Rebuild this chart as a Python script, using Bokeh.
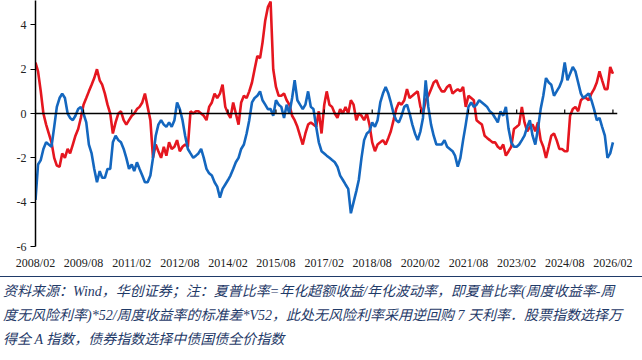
import math
import html
import pandas as pd
from bokeh.plotting import figure
from bokeh.models import Range1d, FixedTicker, DatetimeTickFormatter, Span, Div
from bokeh.layouts import column
from bokeh.embed import file_html
from bokeh.resources import INLINE

# ---------------- data (monthly readings, first month 2008/02) ----------------
start_month = "2008-02-01"

# stock index Sharpe ratio (red)
red = [
    2.3, 1.9, 1.0, 0.0, -0.5, -0.9, -1.3, -2.0, -2.35, -2.4, -1.8, -2.0,
    -1.6, -1.8, -1.4, -1.0, -0.7, -0.2, 0.4, 0.7, 1.0, 1.3, 1.6, 2.0,
    1.5, 1.3, 0.9, 0.4, 0.0, -0.9, -0.4, 0.0, 0.1, -0.3, -0.5, -0.3,
    -0.1, 0.0, 0.2, 0.3, 0.5, 0.9, 0.3, -0.3, -2.0, -1.4, -1.7, -2.0,
    -1.5, -1.9, -1.3, -1.6, -1.5, -1.2, -1.7, -1.5, -1.4, -1.5, 0.1, 0.0,
    0.1, 0.1, 0.0, -0.1, -0.3, 0.3, 0.5, 0.9, 0.7, 0.9, 1.3, 0.3,
    0.0, -0.2, 0.5, 0.0, -0.5, 0.5, 0.8, 0.7, 1.0, 1.4, 2.0, 2.6,
    2.5, 3.2, 4.2, 4.8, 5.05, 2.0, 1.2, 0.8, 0.8, 0.9, 0.6, 0.4,
    -0.1, -0.3, -0.6, -1.0, -1.4, -0.9, -0.5, -0.4, -0.5, -0.6, 0.1, -0.9,
    0.4, 1.0, 0.4, 0.3, 0.0, -0.2, 0.2, 0.0, 0.3, 0.0, 0.6, 0.4,
    -0.3, 0.0, -0.1, -0.3, 0.0, -0.5, -1.3, -1.7, -1.4, -1.3, -1.2, -1.4,
    -1.1, -0.8, -0.3, 0.2, 0.5, 0.4, 0.6, 1.1, 0.7, 0.8, 0.9, 1.0,
    0.3, 0.0, 0.6, 0.8, 1.1, 1.4, 1.5, 1.2, 1.0, 1.0, 1.2, 1.3,
    0.9, 1.0, 1.1, 1.0, 1.2, 0.3, 0.8, 0.7, 0.6, -0.3, -0.4, -0.5,
    -1.0, -1.1, -1.2, -1.3, -1.3, -1.5, -1.6, -1.4, -1.9, -1.7, -1.5, -0.7,
    -0.6, -0.5, 0.3, -0.4, -0.8, -0.6, -0.5, -0.8, -0.4, -1.2, -1.5, -2.0,
    -1.5, -1.0, -0.9, -1.2, -1.6, -1.6, -1.7, -1.7, -0.1, 0.2, 0.3, 0.1,
    0.6, 0.7, 0.7, 0.6, 0.9, 1.1, 1.4, 1.9, 1.5, 1.1, 1.1, 2.1,
    1.8,
]

# bond index Sharpe ratio (blue)
blue = [
    -3.9, -2.3, -2.1, -1.6, -1.3, -1.4, -1.5, -0.6, 0.3, 0.7, 0.9, 0.7,
    0.0, -0.2, -0.3, -0.1, 0.2, 0.3, 0.0, -0.4, -1.4, -1.8, -2.5, -3.1,
    -2.6, -2.9, -2.9, -2.5, -2.5, -1.3, -1.0, -1.2, -1.3, -1.6, -2.0, -2.5,
    -2.3, -2.6, -2.2, -2.5, -2.8, -3.1, -3.1, -2.8, -2.0, -1.0, -0.5, -0.3,
    -0.5, -0.6, -0.4, -0.6, -0.3, 0.5, 0.2, -0.3, -1.0, -1.6, -1.8, -2.0,
    -1.9, -1.8, -1.6, -2.0, -2.5, -2.7, -2.8, -3.1, -3.3, -3.8, -3.4, -3.2,
    -3.0, -2.8, -2.5, -2.2, -2.0, -1.6, -1.4, -0.9, -0.3, 0.5, 0.7, 0.8,
    1.0, 0.6, 0.4, 0.2, 0.2, -0.1, 0.6, 0.4, 0.3, -0.2, 0.4, 0.0,
    0.7, 1.5, 0.6, 0.4, 0.2, 0.4, 1.0, 0.3, 0.2, -0.6, -1.3, -1.7,
    -1.8, -1.9, -2.0, -2.1, -2.2, -2.4, -2.8, -3.0, -3.2, -3.4, -4.5, -4.0,
    -3.5, -3.0, -2.0, -1.2, -0.9, -0.8, -0.4, -0.6, -0.3, 0.5, 0.9, 1.2,
    0.9, 0.5, 0.0, -0.3, -0.4, -0.1, 0.3, 0.4, 0.0, -0.5, -0.9, -1.2,
    -0.8, -0.2, 1.5, 0.3, -0.5, -1.0, -1.4, -1.4, -1.4, -1.2, -1.5, -1.6,
    -1.7, -1.9, -2.4, -2.0, -1.2, -0.5, 0.3, 0.5, 0.3, 0.4, 0.6, 0.5,
    0.4, 0.3, 0.1, 0.0, -0.2, -0.4, 0.1, -0.1, 0.3, -0.7, -1.3, -1.5,
    -1.5, -1.4, -1.2, -1.0, -0.6, -0.3, -1.0, -1.4, -0.7, 0.2, 0.8, 1.6,
    1.4, 1.3, 0.8, 1.0, 1.2, 1.5, 2.3, 1.5, 1.8, 2.1, 1.9, 1.4,
    0.9, 0.7, 0.8, 0.9, 0.6, 0.2, -0.3, -0.2, -0.6, -1.0, -2.0, -1.8,
    -1.3,
]

x_tick_labels = ["2008/02", "2009/08", "2011/02", "2012/08", "2014/02", "2015/08",
                 "2017/02", "2018/08", "2020/02", "2021/08", "2023/02", "2024/08",
                 "2026/02"]
y_ticks = [-6, -4, -2, 0, 2, 4]
x_end = "2026-03-25"
y_min, y_max = -6, 5.1

note_lines = [
    "资料来源：Wind，华创证券；注：夏普比率=年化超额收益/年化波动率，即夏普比率(周度收益率-周",
    "度无风险利率)*52/周度收益率的标准差*V52，此处无风险利率采用逆回购 7 天利率．股票指数选择万",
    "得全 A 指数，债券指数选择中债国债全价指数",
]

# ---------------- chart ----------------
dates = pd.date_range(start_month, periods=len(red), freq="MS")
tick_dates = [pd.to_datetime(s, format="%Y/%m") for s in x_tick_labels]
tick_ms = [d.timestamp() * 1000 for d in tick_dates]

RED = "#E5161F"
BLUE = "#1467BF"
NAVY = "#1F3A68"
SERIF = "'Liberation Serif', 'Times New Roman', serif"
NOTE_FONT = "'Liberation Serif', 'Noto Sans CJK SC', serif"

p = figure(width=642, height=272, x_axis_type="datetime",
           x_range=Range1d(pd.Timestamp(start_month), pd.Timestamp(x_end)),
           y_range=Range1d(y_min, y_max),
           toolbar_location=None, output_backend="svg",
           min_border_left=35, min_border_right=25, min_border_top=0,
           min_border_bottom=26)
p.outline_line_color = None
p.grid.visible = False
p.background_fill_color = "white"

p.line(dates, red, line_color=RED, line_width=2.6)
p.line(dates, blue, line_color=BLUE, line_width=2.6)

# zero line with small upward ticks at the date ticks
p.add_layout(Span(location=0, dimension="width", line_color="black", line_width=1.5))
p.ray(x=tick_dates, y=[0] * len(tick_dates), length=4, length_units="screen",
      angle=math.pi / 2, line_color="black", line_width=1.2)

fmt = DatetimeTickFormatter(years="%Y/%m", months="%Y/%m", days="%Y/%m",
                            hours="%Y/%m", hourmin="%Y/%m", minutes="%Y/%m",
                            minsec="%Y/%m", seconds="%Y/%m",
                            milliseconds="%Y/%m", microseconds="%Y/%m")

xa = p.xaxis[0]
xa.ticker = FixedTicker(ticks=tick_ms)
xa.formatter = fmt
xa.axis_line_color = None
xa.major_tick_line_color = None
xa.major_tick_in = 0
xa.major_tick_out = 0
xa.minor_tick_line_color = None
xa.minor_tick_in = 0
xa.minor_tick_out = 0
xa.major_label_standoff = 9
xa.major_label_text_font = SERIF
xa.major_label_text_font_size = "12px"
xa.major_label_text_color = "#222222"

ya = p.yaxis[0]
ya.ticker = FixedTicker(ticks=y_ticks)
ya.major_label_overrides = {t: str(t) for t in y_ticks}
ya.axis_line_color = "black"
ya.axis_line_width = 1.5
ya.major_tick_line_color = "black"
ya.major_tick_line_width = 1.2
ya.major_tick_in = 0
ya.major_tick_out = 5
ya.minor_tick_line_color = None
ya.major_label_standoff = 4
ya.major_label_text_font = SERIF
ya.major_label_text_font_size = "12px"
ya.major_label_text_color = "#222222"

# ---------------- source note below the chart ----------------
note_html = (
    f'<div style="box-sizing:border-box; width:642px; margin:4px 0 0 0; '
    f'border-top:1.6px solid {NAVY}; padding:3px 0 0 3px; '
    f'font-family:{NOTE_FONT}; font-style:italic; font-size:14px; '
    f'line-height:24px; color:{NAVY}; white-space:nowrap;">'
    + "<br>".join(html.escape(t) for t in note_lines)
    + "</div>"
)
note = Div(text=note_html, width=642, height=88, margin=(0, 0, 0, 0))

layout = column(p, note, spacing=0)
open("out.html", "w").write(file_html(layout, INLINE))
